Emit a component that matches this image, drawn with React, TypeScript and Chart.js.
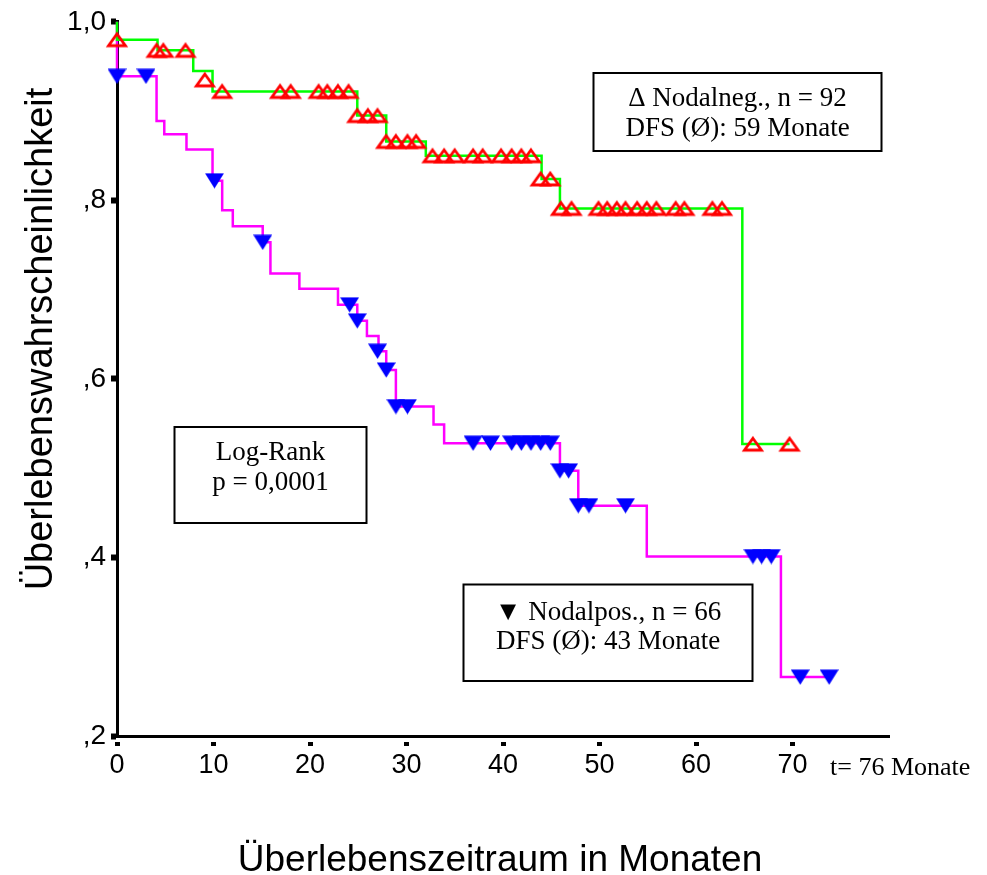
import { useEffect, useRef } from 'react';
import { Chart, registerables } from 'chart.js';

Chart.register(...registerables);

// Axis ticks
const xTicks = [0, 10, 20, 30, 40, 50, 60, 70];
const yTicks = [0.2, 0.4, 0.6, 0.8, 1.0];
const yTickLabels = [',2', ',4', ',6', ',8', '1,0'];

// Nodalneg. (n = 92): Kaplan-Meier steps (time in months, survival)
const negStepTimes = [0, 0, 4.2, 7.9, 9.9, 24.9, 27.9, 32.0, 44.0, 45.9, 64.8, 69.7];
const negStepSurv = [1.0, 0.98, 0.968, 0.945, 0.922, 0.895, 0.866, 0.85, 0.824, 0.791, 0.527, 0.527];
// Nodalneg. censored cases
const negCensorTimes = [
  0, 4.1, 4.8, 7.1, 9.1, 10.9, 16.9, 18.0, 20.9, 21.8, 22.9, 24.0, 24.9, 26.0, 27.0,
  27.9, 28.9, 30.1, 31.0, 32.7, 33.9, 35.0, 36.9, 37.9, 39.8, 40.9, 41.9, 42.9, 43.9,
  44.9, 46.0, 47.1, 49.9, 50.8, 51.8, 52.7, 53.9, 54.9, 55.9, 57.9, 58.8, 61.7, 62.7,
  65.9, 69.7,
];
const negCensorSurv = [
  0.98, 0.968, 0.968, 0.968, 0.935, 0.922, 0.922, 0.922, 0.922, 0.922, 0.922, 0.922,
  0.895, 0.895, 0.895, 0.866, 0.866, 0.866, 0.866, 0.85, 0.85, 0.85, 0.85, 0.85, 0.85,
  0.85, 0.85, 0.85, 0.824, 0.824, 0.791, 0.791, 0.791, 0.791, 0.791, 0.791, 0.791,
  0.791, 0.791, 0.791, 0.791, 0.791, 0.791, 0.527, 0.527,
];

// Nodalpos. (n = 66): Kaplan-Meier steps
const posStepTimes = [
  0, 0, 4.1, 4.9, 7.2, 9.9, 10.9, 12.0, 15.1, 15.9, 18.9, 22.9, 24.9, 25.9, 27.1, 27.9,
  28.9, 32.8, 33.9, 45.9, 47.8, 54.9, 68.8, 73.8,
];
const posStepSurv = [
  1.0, 0.939, 0.889, 0.874, 0.857, 0.822, 0.789, 0.771, 0.753, 0.718, 0.701, 0.683,
  0.665, 0.648, 0.631, 0.61, 0.569, 0.549, 0.528, 0.497, 0.458, 0.401, 0.266, 0.266,
];
// Nodalpos. censored cases
const posCensorTimes = [
  0, 3.0, 10.1, 15.1, 24.1, 24.9, 27.0, 27.9, 28.9, 30.1, 36.9, 38.7, 40.9, 41.9, 42.9,
  43.9, 44.9, 45.9, 46.8, 47.8, 48.9, 52.7, 65.9, 66.8, 67.8, 70.8, 73.8,
];
const posCensorSurv = [
  0.939, 0.939, 0.822, 0.753, 0.683, 0.665, 0.631, 0.61, 0.569, 0.569, 0.528, 0.528,
  0.528, 0.528, 0.528, 0.528, 0.528, 0.497, 0.497, 0.458, 0.458, 0.458, 0.401, 0.401,
  0.401, 0.266, 0.266,
];

// Texts
const negBoxLines = ['\u0394 Nodalneg., n = 92', 'DFS (\u00D8): 59 Monate'];
const posBoxLines = ['\u25BC Nodalpos., n = 66', 'DFS (\u00D8): 43 Monate'];
const logRankLines = ['Log-Rank', 'p = 0,0001'];
const xTitle = '\u00DCberlebenszeitraum in Monaten';
const yTitle = '\u00DCberlebenswahrscheinlichkeit';
const timeNote = 't= 76 Monate';

const SERIF = '"Liberation Serif", "Times New Roman", serif';
const SANS = '"Liberation Sans", Arial, sans-serif';

const toPoints = (xs: number[], ys: number[]) => xs.map((x, i) => ({ x, y: ys[i] }));

// Hollow red triangle used for censored Nodalneg. cases
function openTriangle(): HTMLCanvasElement {
  const c = document.createElement('canvas');
  c.width = 24;
  c.height = 20;
  const g = c.getContext('2d')!;
  g.strokeStyle = '#ff0000';
  g.lineWidth = 2.8;
  g.lineJoin = 'miter';
  g.beginPath();
  g.moveTo(12, 4.2);
  g.lineTo(20.5, 16);
  g.lineTo(3.5, 16);
  g.closePath();
  g.stroke();
  return c;
}

// Filled blue downward triangle used for censored Nodalpos. cases
function solidDownTriangle(): HTMLCanvasElement {
  const c = document.createElement('canvas');
  c.width = 19;
  c.height = 16;
  const g = c.getContext('2d')!;
  g.fillStyle = '#0000ff';
  g.beginPath();
  g.moveTo(0, 0.5);
  g.lineTo(19, 0.5);
  g.lineTo(9.5, 15.8);
  g.closePath();
  g.fill();
  return c;
}

function drawTextBox(
  ctx: CanvasRenderingContext2D,
  x: number,
  y: number,
  w: number,
  h: number,
  lines: string[],
  baselines: number[],
) {
  ctx.strokeStyle = '#000';
  ctx.lineWidth = 2;
  ctx.strokeRect(x, y, w, h);
  ctx.fillStyle = '#000';
  ctx.font = `27px ${SERIF}`;
  ctx.textAlign = 'center';
  ctx.textBaseline = 'alphabetic';
  lines.forEach((line, i) => ctx.fillText(line, x + w / 2, baselines[i]));
}

const annotations = {
  id: 'kmAnnotations',
  afterDraw(chart: Chart) {
    const ctx = chart.ctx;
    ctx.save();
    drawTextBox(ctx, 593.5, 73, 288, 78, negBoxLines, [106, 136]);
    drawTextBox(ctx, 174.5, 427, 192, 96, logRankLines, [460, 490]);
    drawTextBox(ctx, 463.5, 584.5, 289, 96.5, posBoxLines, [620, 649]);

    ctx.fillStyle = '#000';
    ctx.font = `26px ${SERIF}`;
    ctx.textAlign = 'left';
    ctx.fillText(timeNote, 830, 775);

    ctx.font = `37px ${SANS}`;
    ctx.textAlign = 'center';
    ctx.fillText(xTitle, 500, 871);

    ctx.font = `38px ${SANS}`;
    ctx.translate(52, 339);
    ctx.rotate(-Math.PI / 2);
    ctx.fillText(yTitle, 0, 0);
    ctx.restore();
  },
};

export default function App() {
  const canvasRef = useRef<HTMLCanvasElement | null>(null);

  useEffect(() => {
    const canvas = canvasRef.current;
    if (!canvas) return;
    const redTri = openTriangle();
    const blueTri = solidDownTriangle();

    const chart = new Chart(canvas, {
      type: 'line',
      data: {
        datasets: [
          {
            label: 'Nodalneg. zensiert',
            data: toPoints(negCensorTimes, negCensorSurv),
            showLine: false,
            pointStyle: redTri as any,
            pointRadius: 9,
            clip: false as any,
          },
          {
            label: 'Nodalpos. zensiert',
            data: toPoints(posCensorTimes, posCensorSurv),
            showLine: false,
            pointStyle: blueTri as any,
            pointRadius: 9,
            clip: false as any,
          },
          {
            label: 'Nodalneg.',
            data: toPoints(negStepTimes, negStepSurv),
            stepped: 'before',
            borderColor: '#00ff00',
            borderWidth: 2.5,
            pointRadius: 0,
            fill: false,
            clip: false as any,
          },
          {
            label: 'Nodalpos.',
            data: toPoints(posStepTimes, posStepSurv),
            stepped: 'before',
            borderColor: '#ff00ff',
            borderWidth: 2.5,
            pointRadius: 0,
            fill: false,
            clip: false as any,
          },
        ],
      },
      options: {
        responsive: false,
        animation: false,
        devicePixelRatio: 1,
        layout: { padding: { left: 0, top: 19, right: 98, bottom: 0 } },
        plugins: { legend: { display: false }, tooltip: { enabled: false } },
        scales: {
          x: {
            type: 'linear',
            min: 0,
            max: 80,
            z: 1,
            afterBuildTicks: (s: any) => {
              s.ticks = xTicks.map((v) => ({ value: v }));
            },
            afterFit: (s: any) => {
              s.height = 139;
            },
            grid: {
              drawOnChartArea: false,
              drawTicks: true,
              tickLength: 10,
              tickWidth: 5,
              tickColor: '#000',
              tickBorderDash: [6, 4],
              tickBorderDashOffset: 6,
            },
            border: { display: true, color: '#000', width: 3 },
            ticks: {
              color: '#000',
              font: { family: SANS, size: 27 },
              padding: 3,
              maxRotation: 0,
              autoSkip: false,
            },
          },
          y: {
            type: 'linear',
            min: 0.2,
            max: 1.0,
            z: 1,
            afterBuildTicks: (s: any) => {
              s.ticks = yTicks.map((v) => ({ value: v }));
            },
            afterFit: (s: any) => {
              s.width = 117;
            },
            grid: {
              drawOnChartArea: false,
              drawTicks: true,
              tickLength: 6,
              tickWidth: 6,
              tickColor: '#000',
            },
            border: { display: true, color: '#000', width: 3 },
            ticks: {
              color: '#000',
              font: { family: SANS, size: 28 },
              padding: 5,
              autoSkip: false,
              callback: (value: any) => {
                const i = yTicks.findIndex((t) => Math.abs(t - Number(value)) < 1e-9);
                return i >= 0 ? yTickLabels[i] : '';
              },
            },
          },
        },
      },
      plugins: [annotations],
    });

    return () => chart.destroy();
  }, []);

  return (
    <div style={{ position: 'absolute', left: 0, top: 0, width: 987, height: 875, background: '#fff' }}>
      <canvas ref={canvasRef} width={987} height={875} style={{ display: 'block' }} />
    </div>
  );
}
